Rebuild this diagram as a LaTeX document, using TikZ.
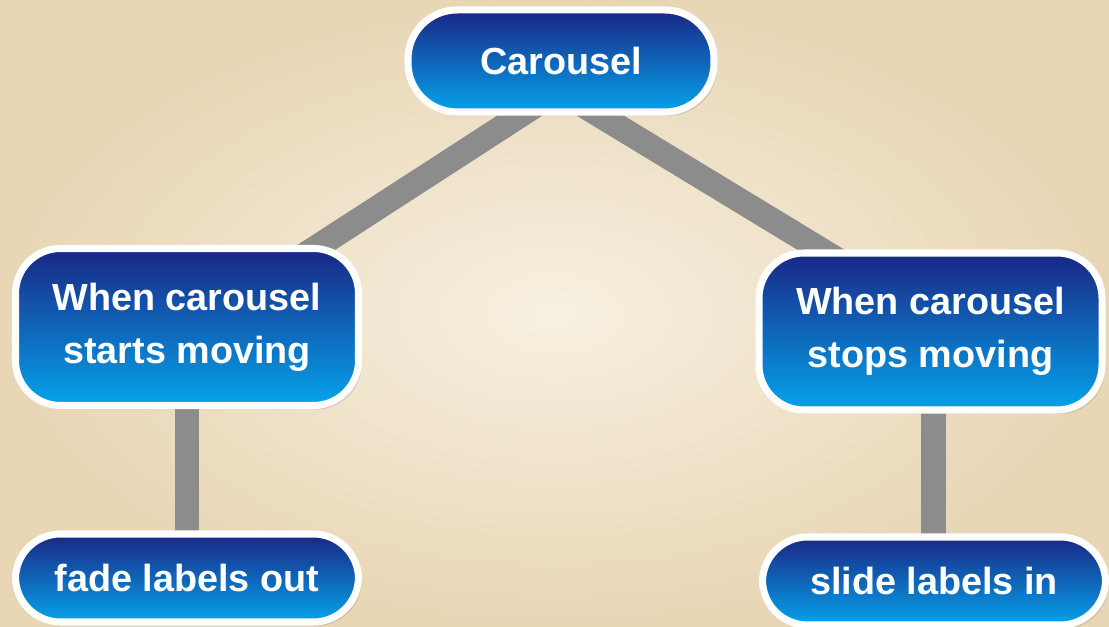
\documentclass[tikz,border=0pt]{standalone}
\usepackage{fontspec}
\setmainfont{Liberation Sans}
\usetikzlibrary{calc,shadows,backgrounds}
\definecolor{navyblue}{rgb}{0.10,0.15,0.52}
\definecolor{skyblue}{rgb}{0.02,0.64,0.92}
\definecolor{paperlight}{rgb}{0.97,0.94,0.88}
\definecolor{paperdark}{rgb}{0.91,0.84,0.71}
\definecolor{linkgray}{rgb}{0.55,0.55,0.55}

\tikzset{
  stepbox/.style={draw=white,line width=4pt,rounded corners=0.9cm,
    top color=navyblue,bottom color=skyblue,text=white,align=center,
    font=\fontsize{21.5}{30}\selectfont\bfseries,inner sep=0pt,
    drop shadow={opacity=0.25,shadow xshift=0.06,shadow yshift=-0.08}},
  link/.style={linkgray,line width=14pt,shorten <=-0.4cm,shorten >=-0.4cm}
}

\begin{document}
\begin{tikzpicture}
    \useasboundingbox (0,0) rectangle (22.18,12.54);

    % the nodes
    \node[stepbox,minimum width=6.12cm,minimum height=2.04cm,rounded corners=0.98cm] (car) at (11.22,11.32) {Carousel};
    \node[stepbox,minimum width=6.86cm,minimum height=3.14cm] (startmv) at (3.74,6.0) {When carousel\\starts moving};
    \node[stepbox,minimum width=6.86cm,minimum height=3.14cm] (stopmv) at (18.61,5.91) {When carousel\\stops moving};
    \node[stepbox,minimum width=6.86cm,minimum height=1.76cm] (fadeout) at (3.74,0.98) {fade labels out};
    \node[stepbox,minimum width=6.86cm,minimum height=1.76cm] (slidein) at (18.68,0.92) {slide labels in};

    \begin{pgfonlayer}{background}
      % paper
      \shade[inner color=paperlight,outer color=paperdark] (0,0) rectangle (22.18,12.54);
      % connectors
      \draw[link] ($(car.south)+(-0.82,0)$) -- ($(startmv.north)+(2.66,0)$);
      \draw[link] ($(car.south)+(0.78,0)$) -- ($(stopmv.north)+(-2.2,0)$);
      \draw[link] (startmv.south) -- (fadeout.north);% left column
      \draw[link] ($(stopmv.south)+(0.06,0)$) -- ($(slidein.north)+(-0.01,0)$);% right column
    \end{pgfonlayer}
\end{tikzpicture}
\end{document}
